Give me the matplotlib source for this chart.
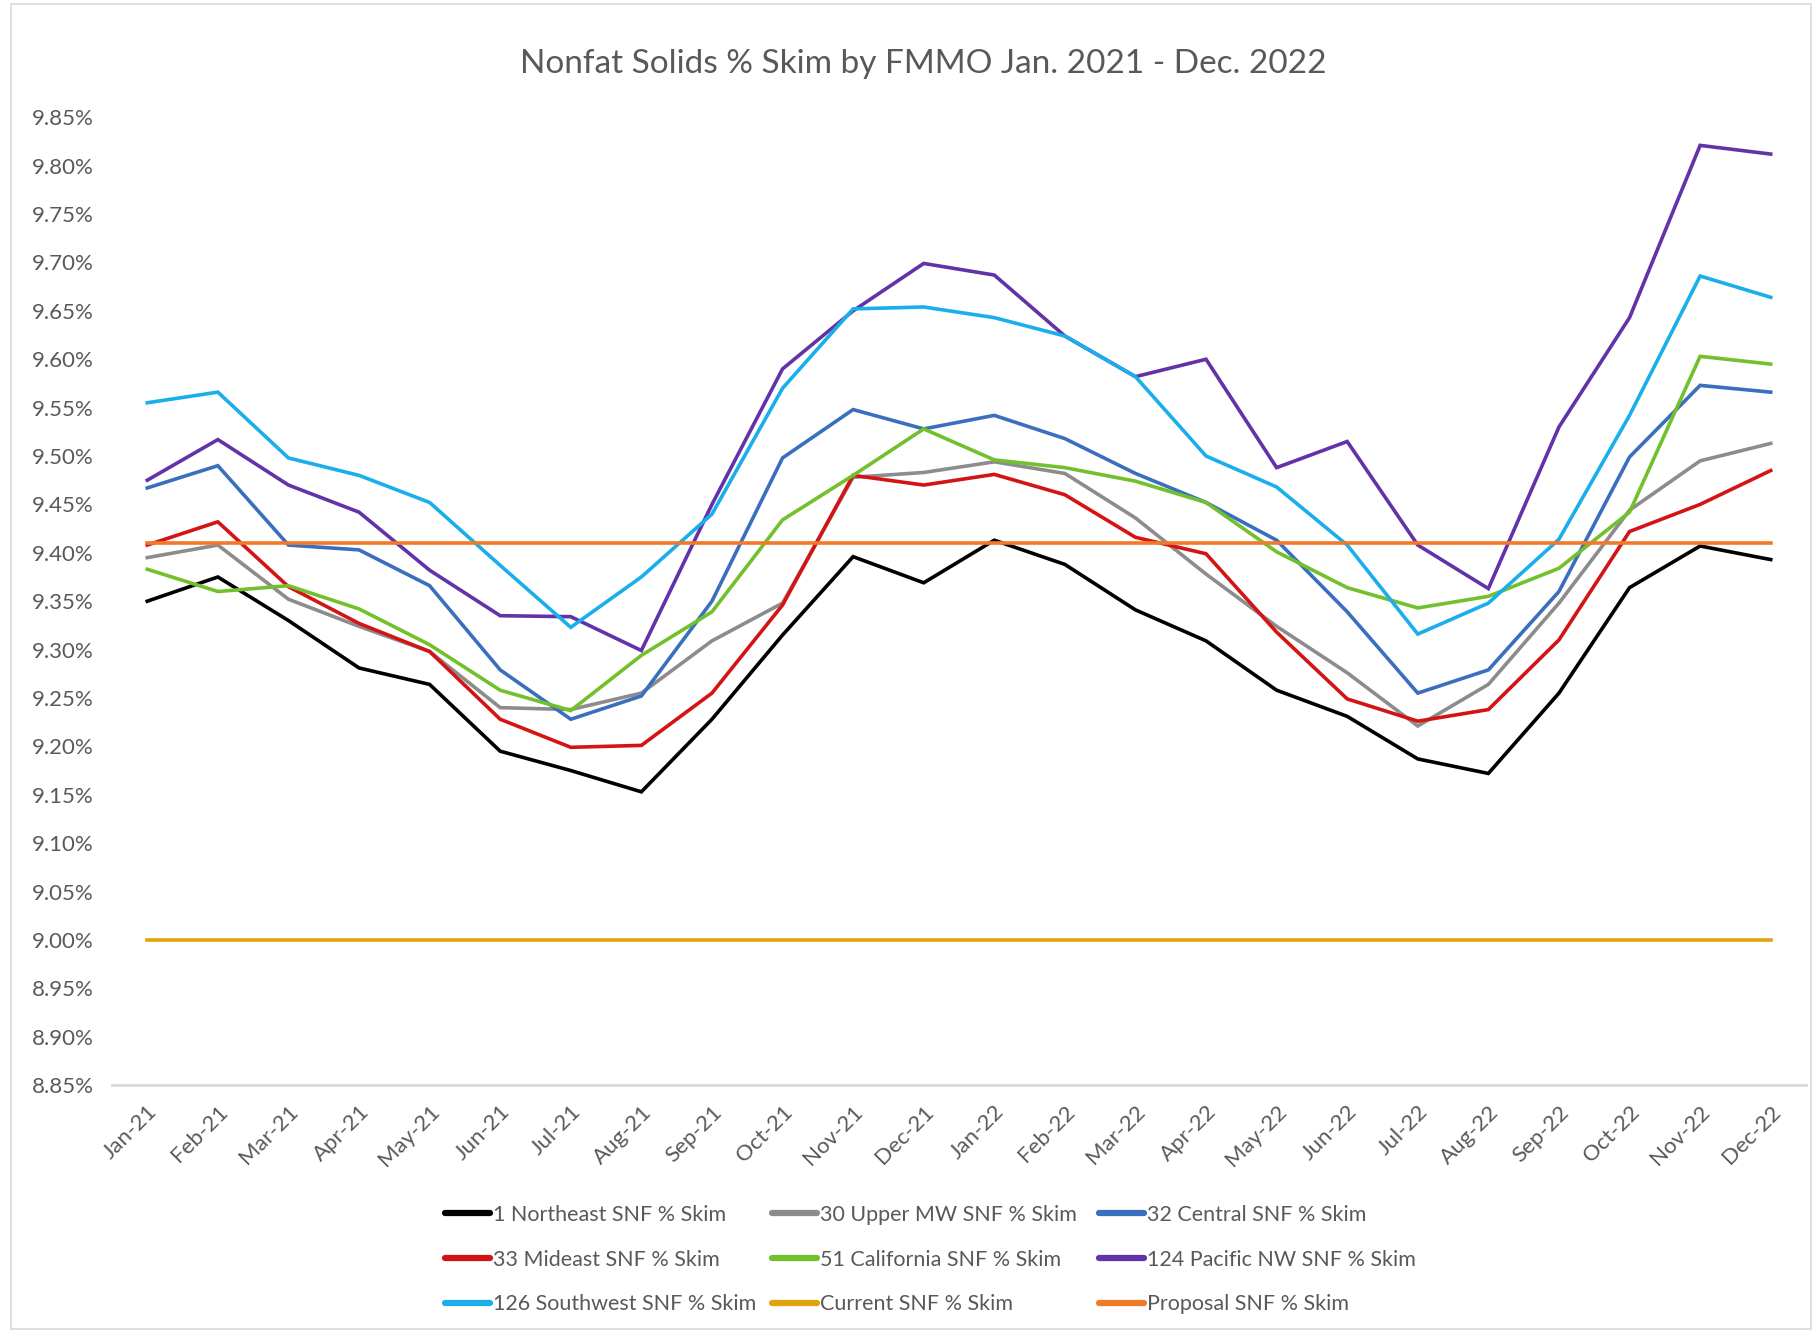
import matplotlib
matplotlib.use('Agg')
import matplotlib.pyplot as plt
from matplotlib.patches import Rectangle
from matplotlib.ticker import FuncFormatter

months = ['Jan-21', 'Feb-21', 'Mar-21', 'Apr-21', 'May-21', 'Jun-21', 'Jul-21', 'Aug-21',
          'Sep-21', 'Oct-21', 'Nov-21', 'Dec-21', 'Jan-22', 'Feb-22', 'Mar-22', 'Apr-22',
          'May-22', 'Jun-22', 'Jul-22', 'Aug-22', 'Sep-22', 'Oct-22', 'Nov-22', 'Dec-22']

northeast = [9.350, 9.375, 9.330, 9.281, 9.264, 9.195, 9.175, 9.153, 9.228, 9.315, 9.396, 9.369,
             9.413, 9.388, 9.341, 9.309, 9.258, 9.231, 9.187, 9.172, 9.255, 9.364, 9.407, 9.393]
upper_mw = [9.395, 9.408, 9.352, 9.324, 9.298, 9.240, 9.238, 9.255, 9.309, 9.348, 9.478, 9.483,
            9.494, 9.482, 9.436, 9.378, 9.324, 9.276, 9.221, 9.264, 9.348, 9.444, 9.495, 9.513]
central = [9.467, 9.490, 9.408, 9.403, 9.366, 9.279, 9.228, 9.252, 9.350, 9.498, 9.548, 9.528,
           9.542, 9.518, 9.482, 9.452, 9.413, 9.339, 9.255, 9.279, 9.360, 9.499, 9.573, 9.566]
mideast = [9.408, 9.432, 9.365, 9.327, 9.298, 9.228, 9.199, 9.201, 9.255, 9.346, 9.480, 9.470,
           9.481, 9.460, 9.416, 9.399, 9.318, 9.249, 9.226, 9.238, 9.310, 9.422, 9.450, 9.485]
california = [9.383, 9.360, 9.366, 9.342, 9.305, 9.258, 9.237, 9.294, 9.339, 9.434, 9.480, 9.528,
              9.496, 9.488, 9.474, 9.452, 9.401, 9.364, 9.343, 9.355, 9.384, 9.442, 9.603, 9.595]
pacific_nw = [9.475, 9.517, 9.470, 9.442, 9.382, 9.335, 9.334, 9.299, 9.450, 9.590, 9.650, 9.699,
              9.687, 9.624, 9.582, 9.600, 9.488, 9.515, 9.408, 9.363, 9.530, 9.643, 9.821, 9.812]
southwest = [9.555, 9.566, 9.498, 9.480, 9.452, 9.387, 9.323, 9.375, 9.440, 9.570, 9.652, 9.654,
             9.643, 9.624, 9.582, 9.500, 9.468, 9.408, 9.316, 9.348, 9.414, 9.542, 9.686, 9.664]
current = [9.00] * len(months)
proposal = [9.41] * len(months)

series = [
    ('1 Northeast SNF % Skim', northeast, '#000000'),
    ('30 Upper MW SNF % Skim', upper_mw, '#8C8C8C'),
    ('32 Central SNF % Skim', central, '#3A6FC0'),
    ('33 Mideast SNF % Skim', mideast, '#D41414'),
    ('51 California SNF % Skim', california, '#72C02C'),
    ('124 Pacific NW SNF % Skim', pacific_nw, '#6233A8'),
    ('126 Southwest SNF % Skim', southwest, '#1AAEEB'),
    ('Current SNF % Skim', current, '#E3A20C'),
    ('Proposal SNF % Skim', proposal, '#F07A28'),
]

plt.rcParams['font.family'] = ['Lato', 'DejaVu Sans']

fig = plt.figure(figsize=(18.18, 13.33), dpi=100)
fig.patches.append(Rectangle((0.006, 0.003), 0.99, 0.994, transform=fig.transFigure,
                             fill=False, edgecolor='#D9D9D9', lw=1.2))
ax = fig.add_axes([0.0616, 0.186, 0.9318, 0.726])

x = list(range(len(months)))
lines = []
for name, vals, col in series:
    ln, = ax.plot(x, vals, color=col, lw=2.6, solid_joinstyle='miter', label=name)
    lines.append(ln)

ax.set_xlim(-0.5, len(months) - 0.5)
ax.set_ylim(8.85, 9.85)
ax.set_yticks([8.85 + 0.05 * i for i in range(21)])
ax.yaxis.set_major_formatter(FuncFormatter(lambda v, p: f'{v:.2f}%'))
ax.set_xticks(x)
ax.set_xticklabels(months, rotation=45, ha='right', rotation_mode='anchor')
ax.tick_params(axis='both', length=0, colors='#595959', labelsize=16)
ax.tick_params(axis='x', pad=12)
ax.tick_params(axis='y', pad=13)
for s in ['top', 'right', 'left']:
    ax.spines[s].set_visible(False)
ax.spines['bottom'].set_color('#D9D9D9')
ax.spines['bottom'].set_linewidth(2)

fig.text(0.508, 0.952, 'Nonfat Solids % Skim by FMMO Jan. 2021 - Dec. 2022',
         ha='center', va='center', fontsize=24, color='#595959')

# legend: three equal-width columns, filled row by row
col_x = [0.2445, 0.4245, 0.6045]
for c in range(3):
    idx = [c, c + 3, c + 6]
    leg = fig.legend([lines[i] for i in idx], [series[i][0] for i in idx],
                     loc='center left', bbox_to_anchor=(col_x[c], 0.055), ncol=1,
                     frameon=False, fontsize=15.5, handlelength=2.1, handletextpad=0.15,
                     labelspacing=1.15, labelcolor='#595959', borderaxespad=0,
                     borderpad=0)
    for h in leg.get_lines():
        h.set_linewidth(4.5)
        h.set_solid_capstyle('round')

fig.savefig('out.png', dpi=100)
